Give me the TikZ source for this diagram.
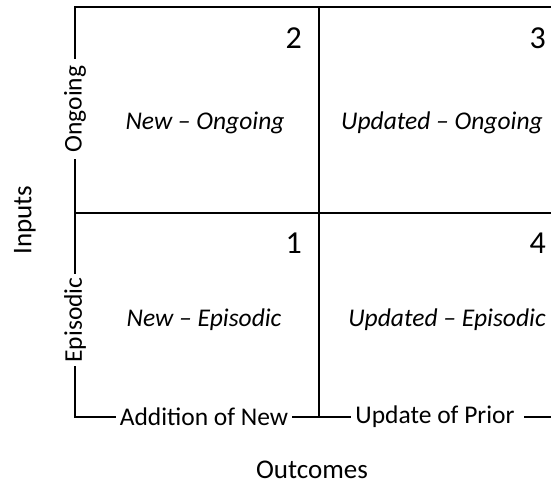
\documentclass[tikz,border=0pt]{standalone}
\usepackage{fontspec}
\setmainfont{Carlito}
\begin{document}
\begin{tikzpicture}[x=1pt,y=-1pt,
  grid/.style={line width=2pt, line cap=rect},
  axlabel/.style={font=\fontsize{25.5}{28}\selectfont, inner sep=5pt},
  cell/.style={font=\fontsize{25.5}{28}\selectfont\itshape, inner sep=0pt},
  num/.style={font=\fontsize{32}{36}\selectfont, inner sep=0pt, anchor=base east},
  title/.style={font=\fontsize{27}{30}\selectfont, inner sep=0pt}]
\useasboundingbox (0,0) rectangle (551,485);
% corners
\coordinate (tl) at (75,7);
\coordinate (tr) at (551,7);
\coordinate (ml) at (75,213);
\coordinate (mr) at (551,213);
\coordinate (vt) at (319,7);
\coordinate (vb) at (319,417);
\coordinate (bl) at (75,417);
\coordinate (br) at (551,417);
\coordinate (brs) at (525,417);
% axis labels
\node[axlabel, rotate=90, inner sep=0pt, minimum width=102pt] (ong) at (75,109) {Ongoing};
\node[axlabel, rotate=90, inner sep=0pt, minimum width=94pt] (epi) at (75,320) {Episodic};
\node[axlabel] (addn) at (204,417) {Addition of New};
\node[axlabel] (updp) at (435,417) {Update of Prior};
% grid
\draw[grid] (tl) -- (tr);
\draw[grid] (ml) -- (mr);
\draw[grid] (vt) -- (vb);
\draw[grid] (tl) -- (ong.east);
\draw[grid] (ong.west) -- (epi.east);
\draw[grid] (epi.west) -- (bl) -- (addn.west);
\draw[grid] (addn.east) -- (updp.west);
\draw[grid] (brs) -- (br);
% cells
\node[cell] (c2) at (205,123) {New -- Ongoing};
\node[cell] (c3) at (442,123) {Updated -- Ongoing};
\node[cell] (c1) at (204,320) {New -- Episodic};
\node[cell] (c4) at (447,320) {Updated -- Episodic};
% numbers
\node[num] (n2) at (302,48) {2};
\node[num] (n3) at (546,48) {3};
\node[num] (n1) at (302,253) {1};
\node[num] (n4) at (546,253) {4};
% titles
\node[title, rotate=90] (inp) at (25,220) {Inputs};
\node[title] (outc) at (312,470) {Outcomes};
\end{tikzpicture}
\end{document}
